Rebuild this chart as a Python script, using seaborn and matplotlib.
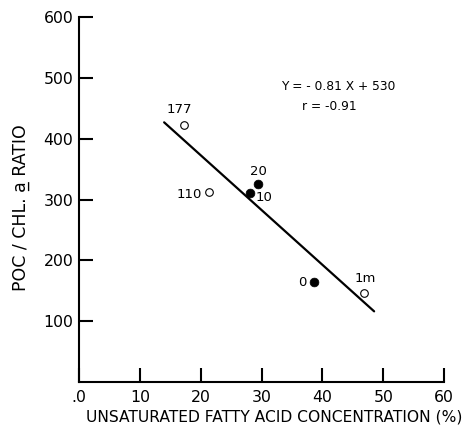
import matplotlib
matplotlib.use("Agg")
from matplotlib import pyplot as plt
import seaborn as sns
import pandas as pd

# data
open_x = [17.3, 21.4, 46.8]
open_y = [423, 312, 147]
open_lbl = ["177", "110", "1m"]
filled_x = [29.4, 28.1, 38.7]
filled_y = [325, 310, 164]
filled_lbl = ["20", "10", "0"]
line_x = [14.0, 48.5]
line_y = [427, 116]
x_ticks = [0, 10, 20, 30, 40, 50, 60]
x_ticklabels = [".0", "10", "20", "30", "40", "50", "60"]
y_ticks = [100, 200, 300, 400, 500, 600]

sns.set_style("white")
plt.rcParams["font.family"] = ["DejaVu Sans"]
plt.rcParams["text.color"] = "black"
plt.rcParams["axes.labelcolor"] = "black"

fig = plt.figure(figsize=(4.67, 4.30), dpi=100)
ax = fig.add_axes([0.169, 0.112, 0.782, 0.848])

df_open = pd.DataFrame({"x": open_x, "y": open_y})
df_fill = pd.DataFrame({"x": filled_x, "y": filled_y})
df_line = pd.DataFrame({"x": line_x, "y": line_y})

sns.lineplot(data=df_line, x="x", y="y", ax=ax, color="black", linewidth=1.6)
sns.scatterplot(data=df_open, x="x", y="y", ax=ax, s=30, color="white",
                edgecolor="black", linewidth=0.8, zorder=3)
sns.scatterplot(data=df_fill, x="x", y="y", ax=ax, s=40, color="black",
                edgecolor="black", linewidth=0.5, zorder=3)

# point labels (offsets in pixels)
offsets = {"177": (-5, 15, "center"), "110": (-7, -2, "right"),
           "1m": (1, 14, "center"), "20": (1, 13, "center"),
           "10": (6, -4, "left"), "0": (-8, 0, "right")}
for xs, ys, ls in [(open_x, open_y, open_lbl), (filled_x, filled_y, filled_lbl)]:
    for x, y, l in zip(xs, ys, ls):
        dx, dy, ha = offsets[l]
        ax.annotate(l, (x, y), xytext=(dx, dy), textcoords="offset pixels",
                    ha=ha, va="center", fontsize=9.5)

ax.text(0.71, 0.811, "Y = - 0.81 X + 530", transform=ax.transAxes,
        ha="center", va="center", fontsize=8.8)
ax.text(0.685, 0.756, "r = -0.91", transform=ax.transAxes,
        ha="center", va="center", fontsize=8.8)

ax.set_xlim(0, 60)
ax.set_ylim(0, 600)
ax.set_xticks(x_ticks)
ax.set_xticklabels(x_ticklabels)
ax.set_yticks(y_ticks)
ax.tick_params(axis="both", direction="in", length=10, width=1.5,
               labelsize=11.3, colors="black", bottom=True, left=True)
ax.tick_params(axis="x", pad=6)
ax.tick_params(axis="y", pad=4)

for s in ["top", "right"]:
    ax.spines[s].set_visible(False)
for s in ["left", "bottom"]:
    ax.spines[s].set_linewidth(1.5)
    ax.spines[s].set_color("black")

ax.set_xlabel("UNSATURATED FATTY ACID CONCENTRATION (%)", fontsize=11.2)
ax.set_ylabel("POC / CHL. a\u0332 RATIO", fontsize=12.5)
ax.xaxis.set_label_coords(0.534, -0.076)
ax.yaxis.set_label_coords(-0.135, 0.477)

fig.savefig("out.png", dpi=100)
